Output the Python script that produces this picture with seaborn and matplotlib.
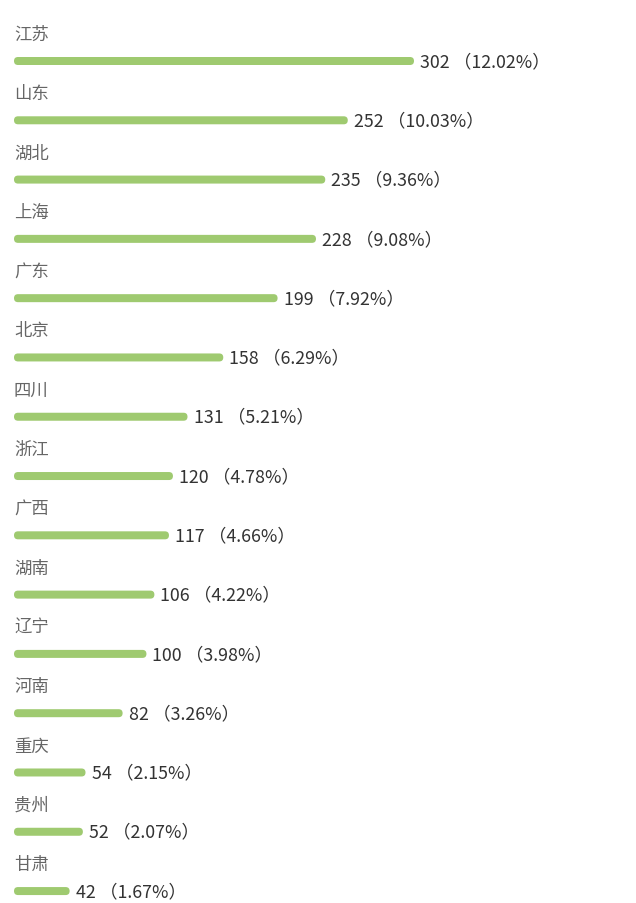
import matplotlib
matplotlib.use("Agg")
import matplotlib.pyplot as plt
import seaborn as sns
import pandas as pd
from matplotlib.patches import FancyBboxPatch

provinces = ["江苏", "山东", "湖北", "上海", "广东", "北京", "四川", "浙江",
             "广西", "湖南", "辽宁", "河南", "重庆", "贵州", "甘肃"]
values = [302, 252, 235, 228, 199, 158, 131, 120, 117, 106, 100, 82, 54, 52, 42]
percents = ["12.02%", "10.03%", "9.36%", "9.08%", "7.92%", "6.29%", "5.21%", "4.78%",
            "4.66%", "4.22%", "3.98%", "3.26%", "2.15%", "2.07%", "1.67%"]

sns.set_theme(style="white")
plt.rcParams['font.family'] = ['Noto Sans CJK SC', 'DejaVu Sans']

W, H = 636, 904
fig = plt.figure(figsize=(W / 100, H / 100), dpi=100)
left_px = 14
ax = fig.add_axes([left_px / W, 0, (W - left_px) / W, 1])

df = pd.DataFrame({"province": provinces, "value": values})
bar_h_px = 8
row_px = 59.29
sns.barplot(data=df, x="value", y="province", orient="h", color="#9fca70",
            width=bar_h_px / row_px, ax=ax, saturation=1)

px_per_x = 1.3245
xmax = (W - left_px) / px_per_x
ax.set_xlim(0, xmax)
first_px = 62
top_i = -first_px / row_px
bot_i = (H - first_px) / row_px
ax.set_ylim(bot_i, top_i)

# replace rectangles with rounded bars
mut_aspect = (1 / row_px) / (1 / px_per_x)
rad = (bar_h_px / 2) / px_per_x
for p in list(ax.patches):
    x, y = p.get_x(), p.get_y()
    w, h = p.get_width(), p.get_height()
    fc = p.get_facecolor()
    p.remove()
    fb = FancyBboxPatch((x, y), w, h,
                        boxstyle=f"round,pad=0,rounding_size={rad}",
                        mutation_aspect=mut_aspect, facecolor=fc, edgecolor="none")
    ax.add_patch(fb)

label_off = 27 / row_px
for i, (prov, v, pc) in enumerate(zip(provinces, values, percents)):
    ax.text(0, i - label_off, prov, ha="left", va="center", fontsize=12.5, color="#666666")
    ax.text(v + 6 / px_per_x, i, f"{v} （{pc}）", ha="left", va="center",
            fontsize=12.8, color="#333333")

ax.set_axis_off()
fig.savefig("out.png", dpi=100, facecolor="white")
